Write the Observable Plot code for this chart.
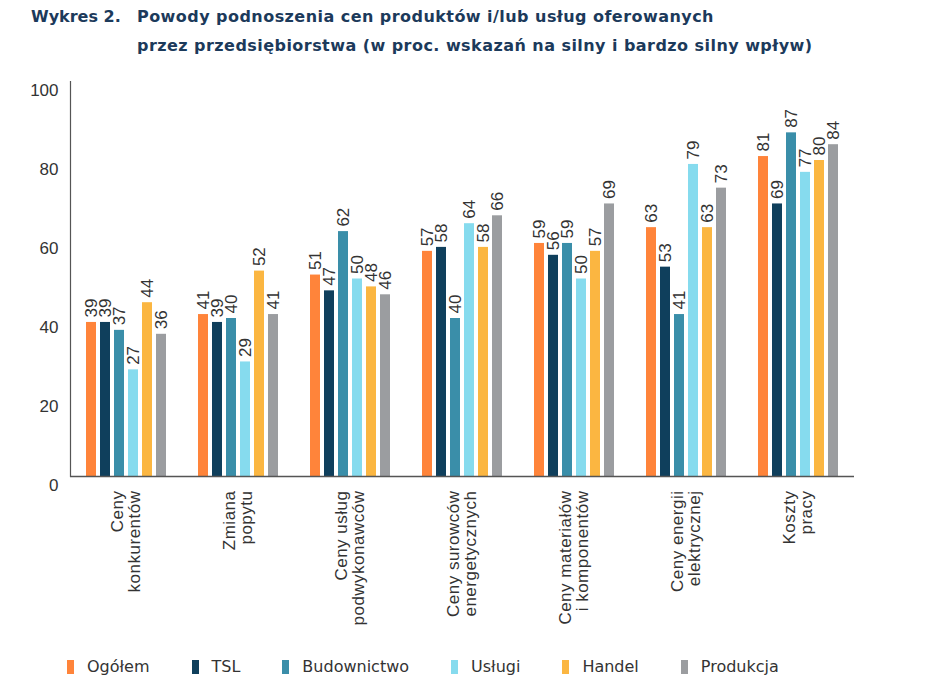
<!DOCTYPE html>
<html>
<head>
<meta charset="utf-8">
<script src="https://cdn.jsdelivr.net/npm/d3@7"></script>
<script src="https://cdn.jsdelivr.net/npm/@observablehq/plot@0.6"></script>
<style>
  html, body { margin: 0; padding: 0; background: #fff; }
  #wrap { position: relative; width: 948px; height: 691px; overflow: hidden; }
  #title { position: absolute; left: 31px; top: 2px; font-family: "DejaVu Sans", sans-serif; font-weight: 700; font-size: 16px; color: #1c3a5b; line-height: 29px; }
  #title .num { position: absolute; left: 0; top: 0; white-space: nowrap; }
  #title .txt { position: absolute; left: 106px; top: 0; white-space: nowrap; letter-spacing: 0.45px; }
  #chart { position: absolute; left: 0; top: 62px; }
  #legend { position: absolute; left: 67px; top: 657px; display: flex; gap: 42px; font-family: "DejaVu Sans", sans-serif; font-size: 16px; color: #333; }
  #legend .item { display: flex; align-items: center; }
  #legend .sw { width: 7px; height: 14px; margin-right: 13px; }
  #chart svg g[aria-label="fx-axis tick label"] text { letter-spacing: 0.5px; }
</style>
</head>
<body>
<div id="wrap">
  <div id="title"><div class="num">Wykres 2.</div><div class="txt">Powody podnoszenia cen produktów i/lub usług oferowanych<br>przez przedsiębiorstwa (w proc. wskazań na silny i bardzo silny wpływ)</div></div>
  <div id="chart"></div>
  <div id="legend"></div>
</div>
<script>
const categories = [
  "Ceny\nkonkurentów",
  "Zmiana\npopytu",
  "Ceny usług\npodwykonawców",
  "Ceny surowców\nenergetycznych",
  "Ceny materiałów\ni komponentów",
  "Ceny energii\nelektrycznej",
  "Koszty\npracy"
];
const seriesNames = ["Ogółem", "TSL", "Budownictwo", "Usługi", "Handel", "Produkcja"];
const ogolem      = [39, 41, 51, 57, 59, 63, 81];
const tsl         = [39, 39, 47, 58, 56, 53, 69];
const budownictwo = [37, 40, 62, 40, 59, 41, 87];
const uslugi      = [27, 29, 50, 64, 50, 79, 77];
const handel      = [44, 52, 48, 58, 57, 63, 80];
const produkcja   = [36, 41, 46, 66, 69, 73, 84];
const yTicks = [0, 20, 40, 60, 80, 100];
const colors = ["#ff843a", "#0f3f5c", "#3a8ea9", "#86dbee", "#fbb641", "#9b9da0"];

const seriesValues = [ogolem, tsl, budownictwo, uslugi, handel, produkcja];
const data = categories.flatMap((c, i) =>
  seriesNames.map((s, j) => ({cat: c, series: s, value: seriesValues[j][i]}))
);

const chart = Plot.plot({
  width: 948,
  height: 576,
  marginLeft: 70,
  marginRight: 94,
  marginTop: 19,
  marginBottom: 162,
  fx: {domain: categories, padding: 0, label: null},
  x: {domain: seriesNames, paddingInner: 0.3, paddingOuter: 0.95, axis: null},
  y: {domain: [0, 100], axis: null},
  color: {domain: seriesNames, range: colors},
  style: {fontFamily: "'Liberation Sans', Arial, sans-serif", fontSize: "17px", color: "#333", background: "transparent"},
  marks: [
    Plot.barY(data, {fx: "cat", x: "series", y: "value", fill: "series", inset: 0}),
    Plot.text(data, {fx: "cat", x: "series", y: "value", text: "value", rotate: -90, textAnchor: "start", lineAnchor: "middle", dy: -5, fontSize: 17, fill: "#333"}),
    Plot.ruleY([0], {stroke: "#555", strokeWidth: 1.5}),
    Plot.frame({anchor: "left", facetAnchor: "left", stroke: "#555", strokeWidth: 1.2}),
    Plot.axisY({ticks: yTicks, tickSize: 0, tickPadding: 12, dy: 9, fontSize: 17, label: null, fill: "#333"}),
    Plot.axisFx({anchor: "bottom", tickRotate: -90, tickSize: 0, tickPadding: 14, fontSize: 17, label: null, fill: "#333"})
  ]
});
document.getElementById("chart").appendChild(chart);

const legend = document.getElementById("legend");
seriesNames.forEach((s, i) => {
  const item = document.createElement("div");
  item.className = "item";
  const sw = document.createElement("span");
  sw.className = "sw";
  sw.style.background = colors[i];
  const t = document.createElement("span");
  t.textContent = s;
  item.appendChild(sw);
  item.appendChild(t);
  legend.appendChild(item);
});
</script>
</body>
</html>
